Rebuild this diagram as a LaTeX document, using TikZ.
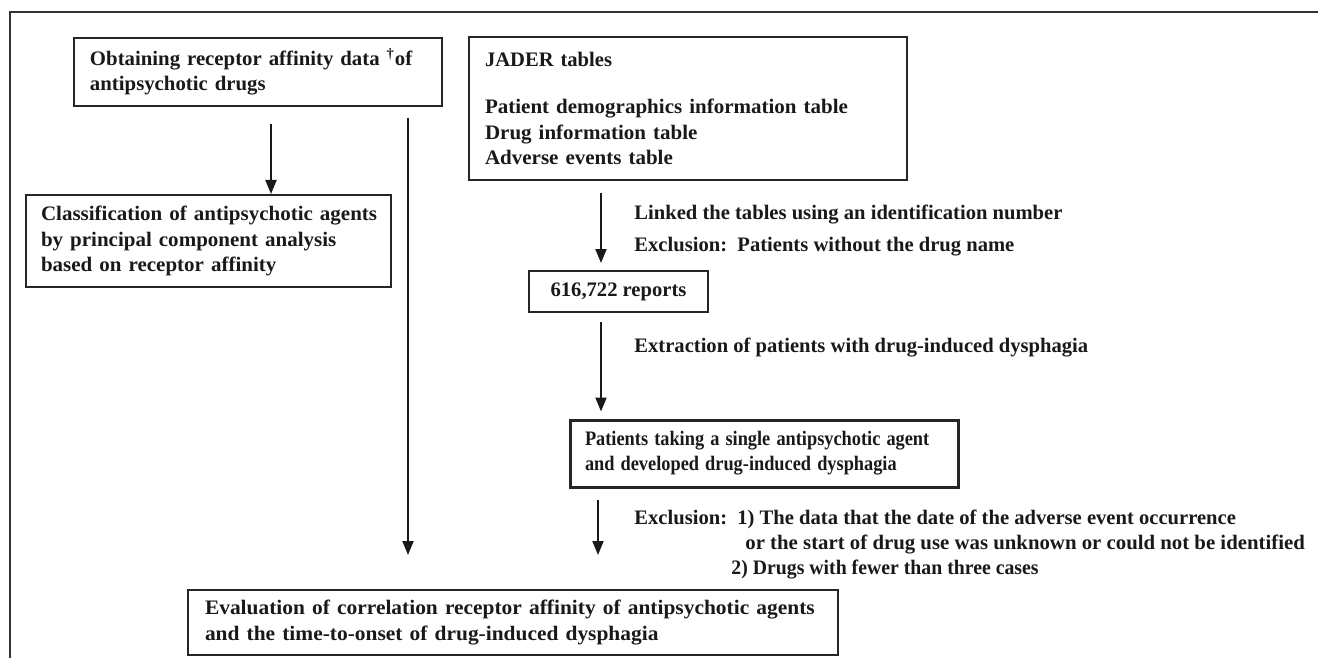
\documentclass[tikz,border=0pt]{standalone}
\usepackage{fontspec}
\usepackage{graphicx}
\setmainfont{Liberation Serif}
\usetikzlibrary{arrows.meta}
\newcommand\hsc[2]{\scalebox{#1}[1]{#2}}
\begin{document}
\begin{tikzpicture}[x=0.5pt,y=-0.5pt,
  txt/.style={font=\bfseries\fontsize{10.3}{12.6}\selectfont, text=black!90},
  box/.style={txt, draw=black!85, line width=1pt, inner sep=0pt, align=left},
  arr/.style={draw=black!90, line width=1pt, -{Triangle[length=7pt,width=5.5pt]}},
  lbl/.style={txt, anchor=west, inner sep=0pt}]
\useasboundingbox (0,0) rectangle (1318,658);
\draw[line width=1pt, black!80] (1318,12) -- (10,12) -- (10,658);

\node[box, minimum width=184pt, minimum height=34pt, text width=168pt] (obt) at (258,72)
  {\hsc{1.01}{Obtaining receptor affinity data \textsuperscript{†}of}\\\hsc{1.01}{antipsychotic drugs}};
\node[box, minimum width=219pt, minimum height=71.5pt, text width=203pt] (jader) at (688,108.5)
  {JADER tables\\[11pt]\hsc{1.02}{Patient demographics information table}\\\hsc{1.02}{Drug information table}\\\hsc{1.02}{Adverse events table}};
\node[box, minimum width=182.5pt, minimum height=46pt, text width=167.5pt] (cls) at (208.5,241)
  {\hsc{1.02}{Classification of antipsychotic agents}\\\hsc{1.02}{by principal component analysis}\\\hsc{1.02}{based on receptor affinity}};
\node[box, minimum width=89.5pt, minimum height=20.5pt, align=center] (rep) at (618.5,291.5)
  {616,722 reports};
\node[box, line width=1.5pt, minimum width=194pt, minimum height=33.5pt, text width=179pt] (pat) at (764,453.5)
  {\hsc{0.89}{Patients taking a single antipsychotic agent}\\\hsc{0.89}{and developed drug-induced dysphagia}};
\node[box, minimum width=325pt, minimum height=32.5pt, text width=308pt] (eval) at (513,622.5)
  {\hsc{1.04}{Evaluation of correlation receptor affinity of antipsychotic agents}\\\hsc{1.04}{and the time-to-onset of drug-induced dysphagia}};

\node[lbl] (l1) at (634,215) {Linked the tables using an identification number};
\node[lbl] (l2) at (634,247) {Exclusion:\ \ Patients without the drug name};
\node[lbl] (l3) at (634,348) {Extraction of patients with drug-induced dysphagia};
\node[lbl] (l4) at (634,519) {Exclusion:\ \ 1) The data that the date of the adverse event occurrence};
\node[lbl] (l5) at (745,545) {\hsc{1.01}{or the start of drug use was unknown or could not be identified}};
\node[lbl] (l6) at (731,570) {\hsc{0.96}{2) Drugs with fewer than three cases}};

\coordinate (s1) at (271,124);
\draw[arr] (s1) -- (s1 |- cls.north);
\coordinate (s2) at (408,118);
\coordinate (e2) at (408,555);
\draw[arr] (s2) -- (e2);
\coordinate (s3) at (601,193);
\draw[arr] (s3) -- ([yshift=3.5pt]s3 |- rep.north);
\coordinate (s4) at (601,322);
\draw[arr] (s4) -- ([yshift=3.5pt]s4 |- pat.north);
\coordinate (s5) at (598,500);
\coordinate (e5) at (598,555);
\draw[arr] (s5) -- (e5);
\end{tikzpicture}
\end{document}
